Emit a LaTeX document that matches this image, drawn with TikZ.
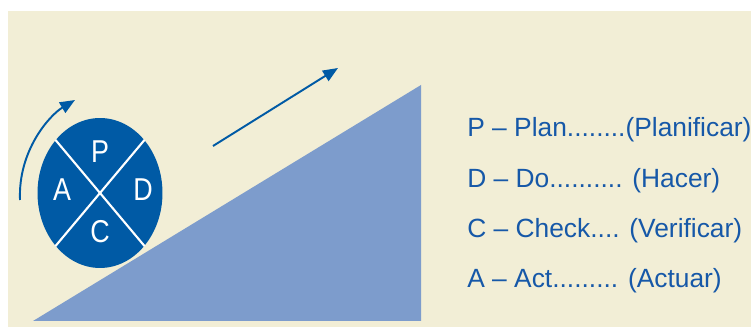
\documentclass[tikz,border=0pt]{standalone}
\usepackage{fontspec}
\setmainfont{Liberation Sans}
\newfontfamily\letrafont[FakeStretch=0.85]{Liberation Sans}
\usetikzlibrary{positioning,arrows.meta,shapes.geometric}
\definecolor{fondo}{RGB}{242,238,214}
\definecolor{azul}{RGB}{0,90,165}
\definecolor{rampa}{RGB}{125,156,204}
\definecolor{texto}{RGB}{22,88,168}

\begin{document}
\begin{tikzpicture}[
  x=0.02cm, y=-0.02cm,
  every node/.style={inner sep=0pt},
  ciclo/.style={ellipse, fill=azul, minimum width=2.5cm, minimum height=3cm},
  letra/.style={text=white, font=\letrafont\fontsize{18}{18}\selectfont},
  fila/.style={anchor=base west, text=texto, font=\fontsize{15}{15}\selectfont},
  flecha/.style={-{Triangle[length=0.3cm,width=0.24cm]}, azul, line width=1.1pt},
  cruz/.style={white, line width=1.2pt}
]
\useasboundingbox (0,0) rectangle (751,327);
\fill[fondo] (8,11) rectangle (751,327);

% rampa
\coordinate (rampaA) at (33,321);
\coordinate (rampaB) at (421,321);
\coordinate (rampaC) at (421,85);
\fill[rampa] (rampaA) -- (rampaB) -- (rampaC) -- cycle;

% circulo PDCA
\node[ciclo] (pdca) at (100,193) {};
\draw[cruz] (pdca.130) -- (pdca.-50);
\draw[cruz] (pdca.50) -- (pdca.-130);
\node[letra] (p) at (100,152) {P};
\node[letra] (d) at (143,190) {D};
\node[letra] (c) at (100,232) {C};
\node[letra] (a) at (62,190) {A};

% flechas
\coordinate (giroIni) at (20,200);
\coordinate (giroFin) at (75,100);
\draw[flecha] (giroIni) .. controls (18,150) and (50,115) .. (giroFin);
\coordinate (subeIni) at (213,146);
\coordinate (subeFin) at (338,68);
\draw[flecha] (subeIni) -- (subeFin);

% leyenda
\node[fila] (plan) at (467,137) {P – Plan........(Planificar)};
\node[fila] (do) at (467,188) {D – Do.......... (Hacer)};
\node[fila] (check) at (467,238) {C – Check.... (Verificar)};
\node[fila] (act) at (467,288) {A – Act......... (Actuar)};
\end{tikzpicture}
\end{document}
